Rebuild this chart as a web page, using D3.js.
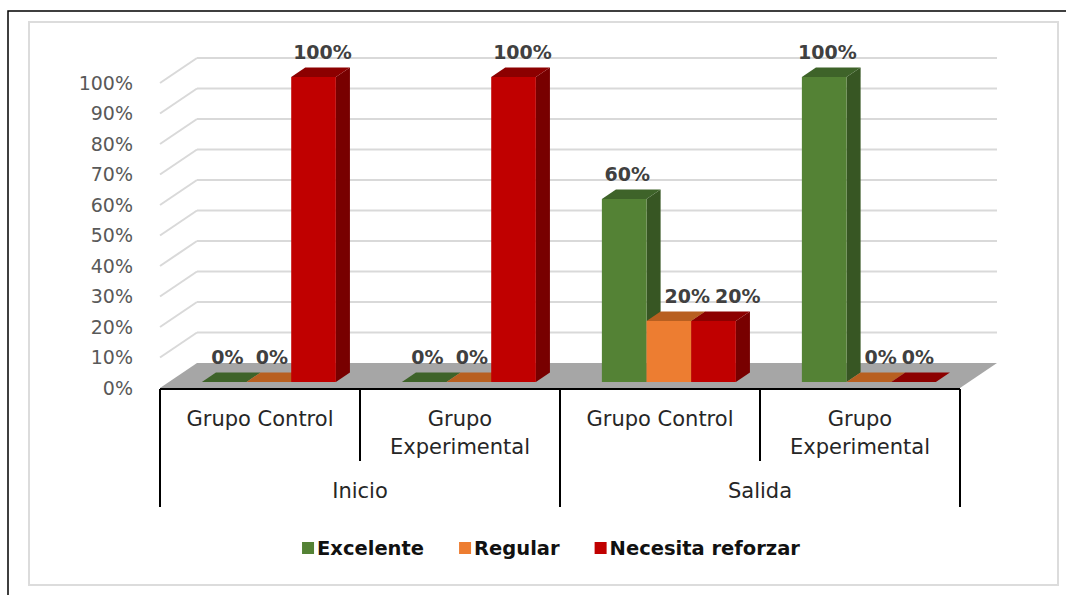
<!DOCTYPE html>
<html>
<head>
<meta charset="utf-8">
<script src="https://cdn.jsdelivr.net/npm/d3@7"></script>
<style>
  html, body { margin: 0; padding: 0; background: #fff; }
  svg { display: block; font-family: "DejaVu Sans", sans-serif; }
</style>
</head>
<body>
<svg id="chart" width="1066" height="595"></svg>
<script>
// data
const categories = ["Grupo Control", "Grupo Experimental", "Grupo Control", "Grupo Experimental"];
const periods = ["Inicio", "Salida"];
const seriesNames = ["Excelente", "Regular", "Necesita reforzar"];
const excelente = [0, 0, 0.6, 1];
const regular = [0, 0, 0.2, 0];
const necesita = [1, 1, 0.2, 0];
const yTicks = [0, 0.1, 0.2, 0.3, 0.4, 0.5, 0.6, 0.7, 0.8, 0.9, 1];

const seriesValues = [excelente, regular, necesita];
const COLORS = [
    {front: "#548235", side: "#375623", top: "#3e6329"},
    {front: "#ed7d31", side: "#a9541b", top: "#b85f20"},
    {front: "#c00000", side: "#780000", top: "#8c0000"}
];

// 3d box depth
const DX = 37, DY = 25;
const Z0 = 0.24, Z1 = 0.62;

const svg = d3.select("#chart");

// frames
svg.append("path")
    .attr("d", "M8,595V11H1066")
    .attr("fill", "none")
    .attr("stroke", "#000")
    .attr("stroke-width", 1.5);
svg.append("rect")
    .attr("x", 29).attr("y", 22)
    .attr("width", 1029).attr("height", 563)
    .attr("fill", "none")
    .attr("stroke", "#dcdcdc")
    .attr("stroke-width", 2);

const x0 = d3.scaleBand()
    .domain(d3.range(categories.length))
    .range([160, 960]);
const x1 = d3.scaleBand()
    .domain(d3.range(seriesNames.length))
    .range([33, 167]);
const y = d3.scaleLinear()
    .domain([0, 1])
    .range([388, 83]);

function proj(px, v, z) {
    return [px + z * DX, y(v) - z * DY];
}

// back wall and side wall grid
const grid = svg.append("g").attr("class", "grid");
grid.selectAll("line.back")
    .data(yTicks.filter(d => d > 0))
    .join("line")
    .attr("class", "back")
    .attr("x1", 160 + DX).attr("x2", 960 + DX)
    .attr("y1", d => y(d) - DY).attr("y2", d => y(d) - DY)
    .attr("stroke", "#d9d9d9").attr("stroke-width", 2);
grid.selectAll("line.side")
    .data(yTicks.filter(d => d > 0))
    .join("line")
    .attr("class", "side")
    .attr("x1", 160).attr("x2", 160 + DX)
    .attr("y1", d => y(d)).attr("y2", d => y(d) - DY)
    .attr("stroke", "#d9d9d9").attr("stroke-width", 2);

// floor
const floorPts = [proj(160, 0, 0), proj(960, 0, 0), proj(960, 0, 1), proj(160, 0, 1)];
svg.append("polygon")
    .attr("points", floorPts.map(p => p.join(",")).join(" "))
    .attr("fill", "#a6a6a6");

// y axis
const yAxis = d3.axisLeft(y)
    .tickValues(yTicks)
    .tickFormat(d3.format(".0%"))
    .tickSize(0)
    .tickPadding(27);
svg.append("g")
    .attr("transform", "translate(160,0)")
    .call(yAxis)
    .call(g => g.select(".domain").remove())
    .call(g => g.selectAll("text")
        .attr("fill", "#595959")
        .style("font-family", "DejaVu Sans")
        .style("font-size", "19px"));

// bars
const bars = svg.append("g").attr("class", "bars");
const poly = pts => pts.map(p => p.join(",")).join(" ");

categories.forEach((cat, i) => {
    seriesNames.forEach((s, j) => {
        const v = seriesValues[j][i];
        const xa = x0(i) + x1(j);
        const xb = xa + x1.bandwidth();
        const c = COLORS[j];
        const g = bars.append("g");
        if (v > 0) {
            g.append("polygon")
                .attr("points", poly([proj(xb, 0, Z0), proj(xb, v, Z0), proj(xb, v, Z1), proj(xb, 0, Z1)]))
                .attr("fill", c.side);
        }
        g.append("polygon")
            .attr("points", poly([proj(xa, v, Z0), proj(xb, v, Z0), proj(xb, v, Z1), proj(xa, v, Z1)]))
            .attr("fill", c.top);
        if (v > 0) {
            g.append("polygon")
                .attr("points", poly([proj(xa, 0, Z0), proj(xb, 0, Z0), proj(xb, v, Z0), proj(xa, v, Z0)]))
                .attr("fill", c.front);
        }
    });
});

// data labels, pushed right when they would sit on a taller neighbour's side
const labels = svg.append("g").attr("class", "labels");
categories.forEach((cat, i) => {
    let prevRight = -Infinity;
    seriesNames.forEach((s, j) => {
        const v = seriesValues[j][i];
        const cx = x0(i) + x1(j) + x1.bandwidth() / 2;
        const p = proj(cx, v, Z1);
        const t = labels.append("text")
            .attr("y", p[1] - 9)
            .attr("text-anchor", "start")
            .attr("fill", "#404040")
            .style("font-size", "19px")
            .style("font-weight", "bold")
            .text(d3.format(".0%")(v));
        const w = t.node().getComputedTextLength();
        let left = cx + 12 - w / 2;
        if (j > 0) {
            const pv = seriesValues[j - 1][i];
            if (pv > v) {
                const sideRight = x0(i) + x1(j - 1) + x1.bandwidth() + Z1 * DX;
                left = Math.max(left, sideRight + 4);
            }
        }
        left = Math.max(left, prevRight + 5);
        t.attr("x", left);
        prevRight = left + w;
    });
});

// category table
const table = svg.append("g").attr("class", "cat-axis")
    .attr("stroke", "#000").attr("stroke-width", 2);
table.append("line")
    .attr("x1", 160).attr("x2", 960).attr("y1", 389).attr("y2", 389);
d3.range(categories.length + 1).forEach(k => {
    const xx = k < categories.length ? x0(k) : x0.range()[1];
    const full = k % 2 === 0;
    table.append("line")
        .attr("x1", xx).attr("x2", xx)
        .attr("y1", 389).attr("y2", full ? 507 : 461);
});

const catText = svg.append("g").attr("fill", "#262626")
    .style("font-size", "21px").attr("text-anchor", "middle");
categories.forEach((cat, i) => {
    const t = catText.append("text")
        .attr("x", x0(i) + x0.bandwidth() / 2)
        .attr("y", 426);
    t.text(cat);
    if (t.node().getComputedTextLength() > x0.bandwidth() - 10) {
        const words = cat.split(" ");
        t.text(null);
        words.forEach((w, k) => {
            t.append("tspan")
                .attr("x", x0(i) + x0.bandwidth() / 2)
                .attr("dy", k === 0 ? 0 : 28)
                .text(w);
        });
    }
});
periods.forEach((p, k) => {
    catText.append("text")
        .attr("x", x0(k * 2) + x0.bandwidth())
        .attr("y", 498)
        .text(p);
});

// legend
const legend = svg.append("g").attr("class", "legend");
let lx = 0;
const items = [];
seriesNames.forEach((s, j) => {
    const it = legend.append("g");
    it.append("rect")
        .attr("width", 12).attr("height", 12)
        .attr("y", -6)
        .attr("fill", COLORS[j].front);
    const tx = it.append("text")
        .attr("x", 15).attr("y", 7)
        .attr("fill", "#111")
        .style("font-size", "19.5px")
        .style("font-weight", "bold")
        .text(s);
    items.push({g: it, w: 15 + tx.node().getComputedTextLength()});
});
const GAP = 35;
items.forEach(it => {
    it.g.attr("transform", `translate(${lx},0)`);
    lx += it.w + GAP;
});
lx -= GAP;
legend.attr("transform", `translate(${551 - lx / 2},548)`);
</script>
</body>
</html>
